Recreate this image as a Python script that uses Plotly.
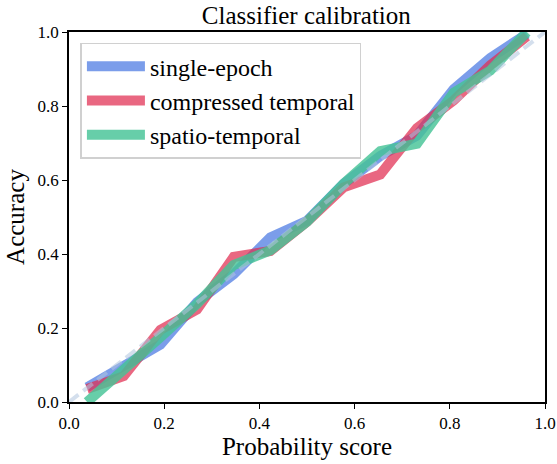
import plotly.graph_objects as go

prob_bins = [0.038, 0.115, 0.192, 0.269, 0.346, 0.423, 0.5, 0.577, 0.654, 0.731, 0.808, 0.885, 0.962]
single_epoch = [0.04, 0.10, 0.155, 0.27, 0.345, 0.445, 0.49, 0.59, 0.665, 0.72, 0.845, 0.93, 0.995]
compressed_temporal = [0.035, 0.07, 0.195, 0.25, 0.392, 0.408, 0.487, 0.58, 0.615, 0.74, 0.815, 0.91, 0.988]
spatio_temporal = [0.0, 0.085, 0.175, 0.265, 0.37, 0.41, 0.487, 0.59, 0.678, 0.698, 0.836, 0.896, 1.0]
diag = [0.0, 1.0]

series = [
    ("single-epoch", single_epoch, "rgba(100,140,230,0.85)"),
    ("compressed temporal", compressed_temporal, "rgba(225,45,80,0.72)"),
    ("spatio-temporal", spatio_temporal, "rgba(70,195,150,0.82)"),
]

FONT = "'Liberation Serif', 'Times New Roman', serif"
fig = go.Figure()
for name, vals, col in series:
    fig.add_trace(go.Scatter(x=prob_bins, y=vals, mode="lines", name=name,
                             line=dict(color=col, width=10)))
fig.add_trace(go.Scatter(x=diag, y=diag, mode="lines", showlegend=False,
                         line=dict(color="rgba(176,196,222,0.55)", width=4, dash="12px,6px")))

axis_common = dict(range=[0, 1], showline=True, linecolor="black", linewidth=1.5, mirror=True,
                   ticks="outside", ticklen=5, tickcolor="black", showgrid=False, zeroline=False,
                   automargin=False,
                   tickformat=".1f", dtick=0.2, tickfont=dict(family=FONT, size=17, color="black"))

fig.update_layout(
    width=557, height=464,
    font=dict(family=FONT, color="black"),
    margin=dict(l=69, r=12, t=32, b=62, autoexpand=False),
    paper_bgcolor="white", plot_bgcolor="white",
    title=dict(text="Classifier calibration", x=0.55, xanchor="center", y=0.967, yanchor="middle",
               font=dict(family=FONT, size=25, color="black")),
    xaxis=dict(**axis_common, title=dict(text="Probability score", standoff=4,
                                         font=dict(family=FONT, size=25, color="black"))),
    yaxis=dict(**axis_common, title=dict(text="Accuracy", standoff=6,
                                         font=dict(family=FONT, size=25, color="black"))),
    legend=dict(x=0.024, y=0.971, xanchor="left", yanchor="top",
                bgcolor="rgba(255,255,255,0.8)", bordercolor="#d0d0d0", borderwidth=1.5,
                font=dict(family=FONT, size=24, color="black"), tracegroupgap=0, itemwidth=58),
    showlegend=True,
)

fig.write_html("out.html", config={"displayModeBar": False},
               post_script="document.body.style.margin='0px';")
